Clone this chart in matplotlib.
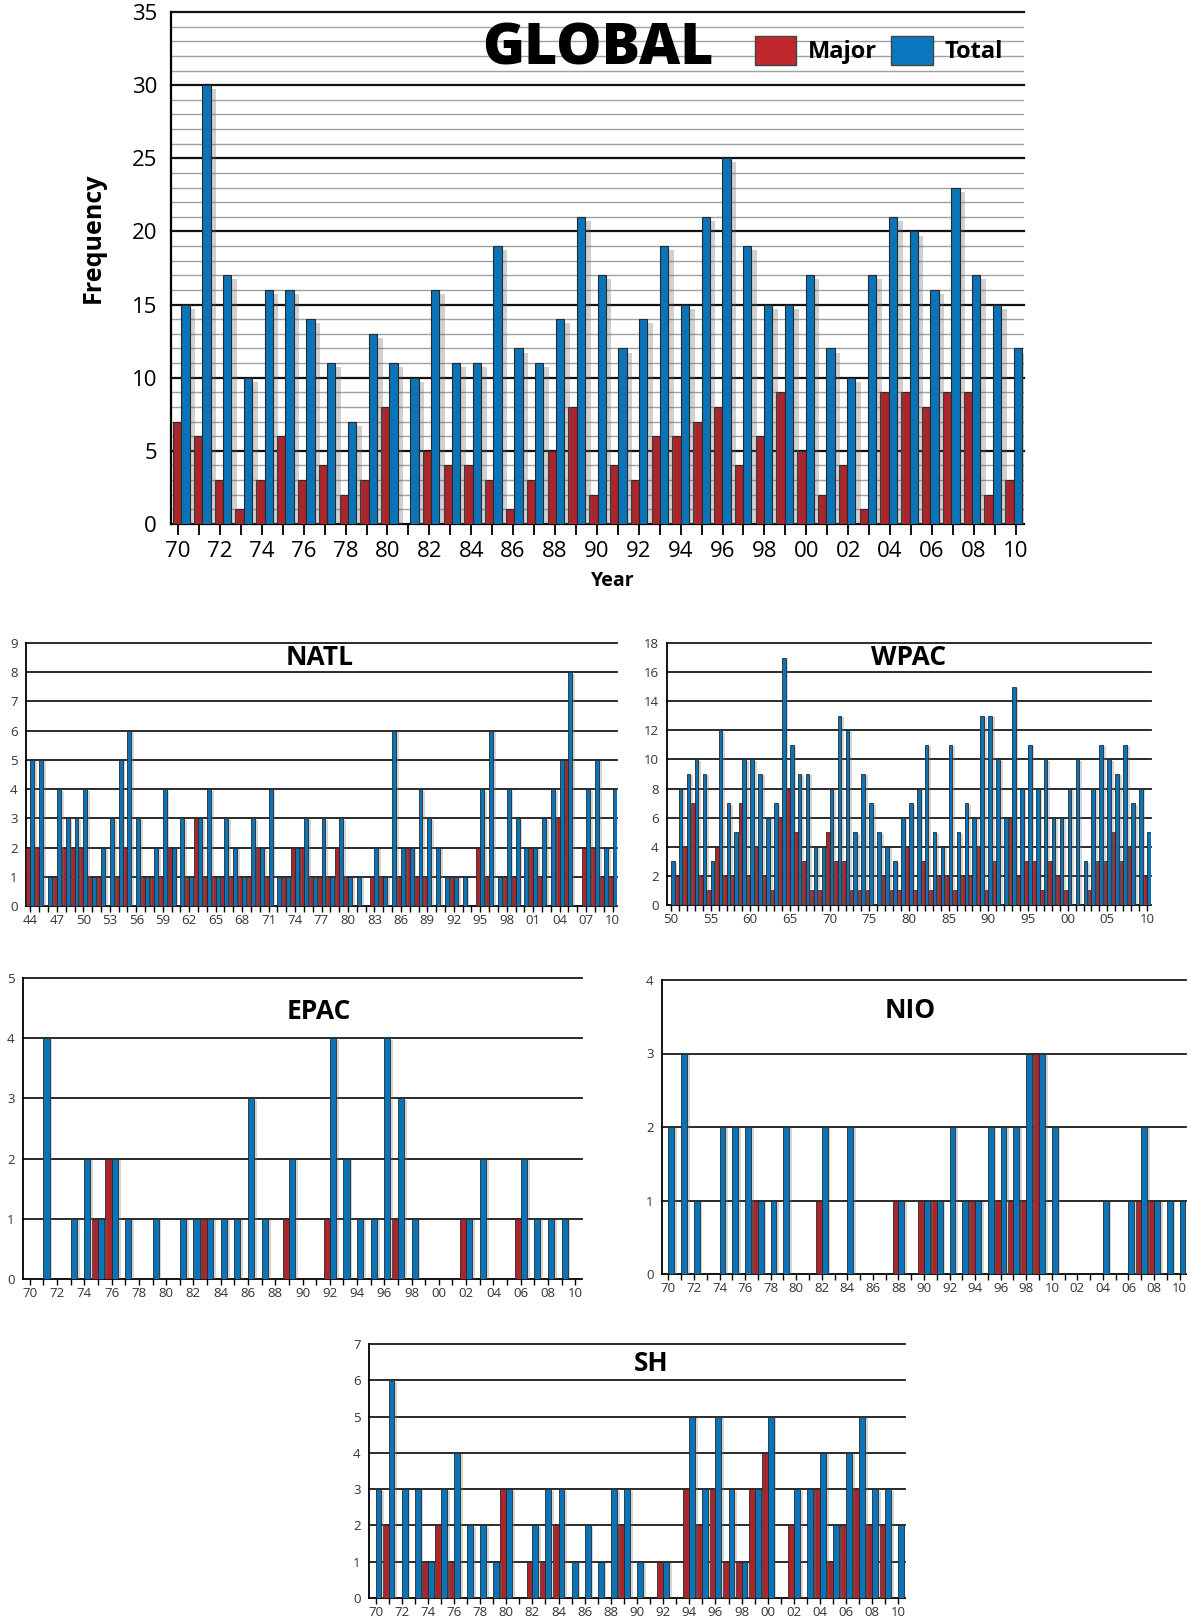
import numpy as np
import matplotlib
matplotlib.use('Agg')
import matplotlib.pyplot as plt
from matplotlib.patches import Patch
import matplotlib.patheffects as pe

plt.rcParams['font.family'] = ['Open Sans', 'DejaVu Sans']

RED = '#a8262c'
BLUE = '#0b74b8'
EDGE = '#2a2a2a'

# ---- data ----
global_years = list(range(1970, 2011))
global_major = [7, 6, 3, 1, 3, 6, 3, 4, 2, 3, 8, 0, 5, 4, 4, 3, 1, 3, 5, 8,
                2, 4, 3, 6, 6, 7, 8, 4, 6, 9, 5, 2, 4, 1, 9, 9, 8, 9, 9, 2, 3]
global_total = [15, 30, 17, 10, 16, 16, 14, 11, 7, 13, 11, 10, 16, 11, 11, 19, 12, 11, 14, 21,
                17, 12, 14, 19, 15, 21, 25, 19, 15, 15, 17, 12, 10, 17, 21, 20, 16, 23, 17, 15, 12]

natl_years = list(range(1944, 2011))
natl_major = [2, 2, 0, 1, 2, 2, 2, 1, 1, 0,
              1, 2, 0, 1, 1, 1, 2, 0, 1, 3,
              1, 1, 1, 1, 1, 1, 2, 1, 0, 1,
              2, 2, 1, 1, 1, 2, 1, 0, 0, 1,
              1, 0, 1, 2, 1, 1, 0, 0, 1, 0,
              0, 2, 1, 0, 1, 1, 0, 2, 1, 0,
              3, 5, 0, 2, 2, 1, 1]
natl_total = [5, 5, 1, 4, 3, 3, 4, 1, 2, 3,
              5, 6, 3, 1, 2, 4, 2, 3, 1, 3,
              4, 1, 3, 2, 1, 3, 2, 4, 1, 1,
              2, 3, 1, 3, 1, 3, 1, 1, 0, 2,
              1, 6, 2, 2, 4, 3, 2, 1, 1, 1,
              0, 4, 6, 1, 4, 3, 2, 2, 3, 4,
              5, 8, 0, 4, 5, 2, 4]

wpac_years = list(range(1950, 2011))
wpac_major = [0, 2, 4, 7, 2, 1, 4, 2, 2, 7, 2, 4, 2, 1, 6, 8, 5, 3, 1, 1,
              5, 3, 3, 1, 1, 1, 0, 2, 1, 1, 4, 1, 3, 1, 2, 2, 1, 2, 2, 4,
              1, 3, 0, 6, 2, 3, 3, 1, 3, 2, 1, 0, 0, 1, 3, 3, 5, 3, 4, 0, 2]
wpac_total = [3, 8, 9, 10, 9, 3, 12, 7, 5, 10, 10, 9, 6, 7, 17, 11, 9, 9, 4, 4,
              8, 13, 12, 5, 9, 7, 5, 4, 3, 6, 7, 8, 11, 5, 4, 11, 5, 7, 6, 13,
              13, 10, 6, 15, 8, 11, 8, 10, 6, 6, 8, 10, 3, 8, 11, 10, 9, 11, 7, 8, 5]

basin_years = list(range(1970, 2011))
epac_major = [0, 0, 0, 0, 0, 1, 2, 0, 0, 0, 0, 0, 0, 1, 0, 0, 0, 0, 0, 1,
              0, 0, 1, 0, 0, 0, 0, 1, 0, 0, 0, 0, 1, 0, 0, 0, 1, 0, 0, 0, 0]
epac_total = [0, 4, 0, 1, 2, 1, 2, 1, 0, 1, 0, 1, 1, 1, 1, 1, 3, 1, 0, 2,
              0, 0, 4, 2, 1, 1, 4, 3, 1, 0, 0, 0, 1, 2, 0, 0, 2, 1, 1, 1, 0]

nio_major = [0, 0, 0, 0, 0, 0, 0, 1, 0, 0, 0, 0, 1, 0, 0, 0, 0, 0, 1, 0,
             1, 1, 0, 0, 1, 0, 1, 1, 1, 3, 0, 0, 0, 0, 0, 0, 0, 1, 1, 0, 0]
nio_total = [2, 3, 1, 0, 2, 2, 2, 1, 1, 2, 0, 0, 2, 0, 2, 0, 0, 0, 1, 0,
             1, 1, 2, 1, 1, 2, 2, 2, 3, 3, 2, 0, 0, 0, 1, 0, 1, 2, 1, 1, 1]
nio_labels = ['70', '72', '74', '76', '78', '80', '82', '84', '86', '88', '90',
              '92', '94', '96', '98', '10', '02', '04', '06', '08', '10']

sh_major = [0, 2, 0, 0, 1, 2, 1, 0, 0, 0, 3, 0, 1, 1, 2, 0, 0, 0, 0, 2,
            0, 0, 1, 0, 3, 2, 3, 1, 1, 3, 4, 0, 2, 0, 3, 1, 2, 3, 2, 2, 0]
sh_total = [3, 6, 3, 3, 1, 3, 4, 2, 2, 1, 3, 0, 2, 3, 3, 1, 2, 1, 3, 3,
            1, 0, 1, 0, 5, 3, 5, 3, 1, 3, 5, 0, 3, 3, 4, 2, 4, 5, 3, 3, 2]

W, H = 1190, 1621
fig = plt.figure(figsize=(W / 100, H / 100), dpi=100)


def axes_px(left, top, right, bottom):
    return fig.add_axes([left / W, 1 - bottom / H, (right - left) / W, (bottom - top) / H])


def yy(years):
    return [f'{y % 100:02d}' for y in years]


# ---- GLOBAL ----
ax = axes_px(171, 12, 1024, 524)
x = np.arange(len(global_years))
shadow = [pe.SimplePatchShadow(offset=(4, -3), shadow_rgbFace='#666666', alpha=0.3), pe.Normal()]
ax.bar(x + 0.1, global_major, 0.4, align='edge', color=RED, edgecolor=EDGE, lw=0.8,
       zorder=3, path_effects=shadow)
ax.bar(x + 0.5, global_total, 0.4, align='edge', color=BLUE, edgecolor=EDGE, lw=0.8,
       zorder=3, path_effects=shadow)
ax.set_xlim(0, 41)
ax.set_ylim(0, 35)
for v in range(1, 36):
    if v % 5:
        ax.axhline(v, color='#a0a0a0', lw=1.0, zorder=1)
    else:
        ax.axhline(v, color='#111111', lw=1.6, zorder=1, clip_on=False)
tick_pos = 0.34 + np.arange(41) * 40.26 / 40
ax.set_xticks(tick_pos)
ax.set_xticklabels([lab if i % 2 == 0 else '' for i, lab in enumerate(yy(global_years))])
ax.set_yticks(range(0, 36, 5))
ax.tick_params(axis='x', direction='out', length=8, width=1.3, labelsize=16, pad=4)
ax.tick_params(axis='y', length=0, labelsize=16, pad=10)
for s in ['top', 'right']:
    ax.spines[s].set_visible(False)
ax.spines['left'].set_linewidth(1.6)
ax.spines['bottom'].set_linewidth(1.6)
ax.legend(handles=[Patch(facecolor='#c0282e', edgecolor='#444444'),
                   Patch(facecolor='#0a78c0', edgecolor='#444444')],
          labels=['Major', 'Total'], loc='upper right', bbox_to_anchor=(1.0, 0.995),
          ncol=2, frameon=False, prop={'weight': 'bold', 'size': 17},
          handlelength=1.75, handleheight=1.5, columnspacing=0.6, handletextpad=0.5)
fig.text(598 / W, 1 - 50 / H, 'GLOBAL', ha='center', va='center', fontsize=41,
         weight='heavy')
fig.text(93 / W, 1 - 238 / H, 'Frequency', ha='center', va='center', rotation=90,
         fontsize=18, weight='bold')
fig.text(613 / W, 1 - 581 / H, 'Year', ha='center', va='center', fontsize=14,
         weight='bold')


# ---- regional panels ----
def panel(box, title, tpos, years, major, total, ymax, ystep, labels, label_every):
    ax = axes_px(*box)
    x = np.arange(len(years))
    sh = [pe.SimplePatchShadow(offset=(2, -1), shadow_rgbFace='#777777', alpha=0.3), pe.Normal()]
    ax.bar(x - 0.45, major, 0.45, align='edge', color=RED, edgecolor=EDGE, lw=0.6,
           zorder=3, path_effects=sh)
    ax.bar(x, total, 0.45, align='edge', color=BLUE, edgecolor=EDGE, lw=0.6,
           zorder=3, path_effects=sh)
    ax.set_xlim(-0.5, len(years) - 0.5)
    ax.set_ylim(0, ymax)
    yt = np.arange(0, ymax + 1, ystep)
    ax.set_yticks(yt)
    for v in yt[1:]:
        ax.axhline(v, color='#1a1a1a', lw=1.3, zorder=1, clip_on=False)
    ax.set_xticks(x)
    lab_iter = iter(labels)
    ax.set_xticklabels([next(lab_iter) if i % label_every == 0 else '' for i in x])
    ax.tick_params(axis='x', direction='out', length=4, width=1.0, labelsize=9.5, pad=2,
                   labelcolor='#333333')
    ax.tick_params(axis='y', length=0, labelsize=9.5, pad=6, labelcolor='#333333')
    for s in ['top', 'right']:
        ax.spines[s].set_visible(False)
    ax.spines['left'].set_linewidth(1.3)
    ax.spines['bottom'].set_linewidth(1.3)
    ax.text(tpos[0], tpos[1], title, transform=ax.transAxes, ha='center', va='center',
            fontsize=19, weight='bold')
    return ax


panel((26, 643, 617, 906), 'NATL', (0.497, 0.943), natl_years, natl_major, natl_total,
      9, 1, yy(natl_years[::3]), 3)
panel((667, 643, 1151, 905), 'WPAC', (0.50, 0.943), wpac_years, wpac_major, wpac_total,
      18, 2, yy(wpac_years[::5]), 5)
panel((23, 978, 582, 1279), 'EPAC', (0.53, 0.89), basin_years, epac_major, epac_total,
      5, 1, yy(basin_years[::2]), 2)
panel((662, 980, 1186, 1274), 'NIO', (0.473, 0.895), basin_years, nio_major, nio_total,
      4, 1, nio_labels, 2)
panel((369, 1344, 905, 1598), 'SH', (0.526, 0.925), basin_years, sh_major, sh_total,
      7, 1, yy(basin_years[::2]), 2)

fig.savefig('out.png', dpi=100)
